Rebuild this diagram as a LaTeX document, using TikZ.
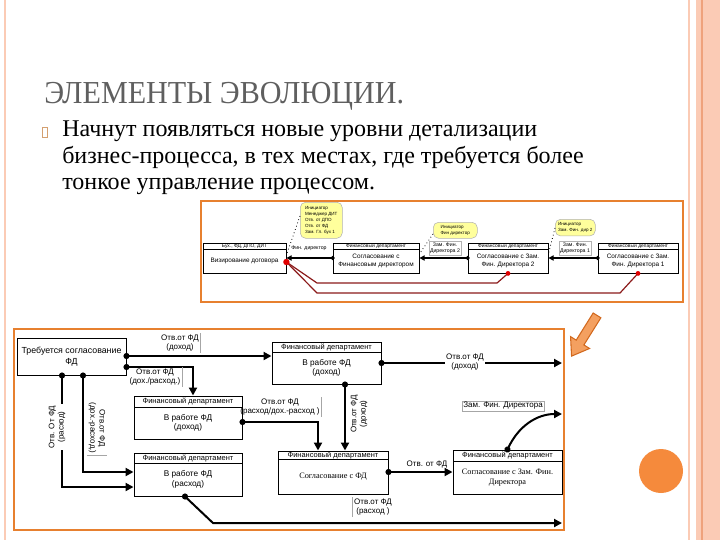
\documentclass[tikz,border=0pt]{standalone}
\usepackage{fontspec}
\setmainfont{Liberation Serif}
\newfontfamily\dgfont{Liberation Sans}
\usetikzlibrary{arrows.meta,calc,fit,shapes.arrows}

\definecolor{frameorange}{HTML}{E7802F}
\definecolor{borderpink}{HTML}{FBCBB5}
\definecolor{borderline}{HTML}{EFA27C}
\definecolor{calloutyellow}{HTML}{FFFF9C}
\definecolor{redline}{HTML}{8B1A1A}
\definecolor{reddot}{HTML}{E00000}
\definecolor{titlegray}{HTML}{5F5F5F}
\definecolor{bullettan}{HTML}{D4A070}
\definecolor{arrowfill}{HTML}{F4A060}
\definecolor{arrowedge}{HTML}{D2691E}
\definecolor{dotorange}{HTML}{F58A3C}

% box with a header strip: name, x1, y1, x2, y2, header y, header, body
\newcommand{\fdbox}[8]{%
  \node[fdbox, fit={(#2,#3) (#4,#5)}] (#1) {};
  \draw[fdbox line] (#2,#6) -- (#4,#6);
  \node[hdr] (#1-h) at ($(#2,#3)!0.5!(#4,#6)$) {#7};
  \node[bdy] (#1-b) at ($(#2,#6)!0.5!(#4,#5)$) {#8};
}

\tikzset{
  fdbox/.style={draw, line width=0.75pt, inner sep=0pt},
  fdbox line/.style={line width=0.75pt},
  hdr/.style={font=\dgfont\fontsize{5.6}{6.5}\selectfont, inner sep=0pt},
  bdy/.style={font=\dgfont\fontsize{6.2}{7.2}\selectfont, align=center, inner sep=0pt},
  lbl/.style={font=\dgfont\fontsize{6}{7}\selectfont, align=center, inner sep=1pt},
  flow/.style={line width=1.5pt, {Circle[length=4.5pt]}-{Triangle[length=6pt,width=6pt]}, shorten <=-2.25pt},
  tflow/.style={line width=0.8pt, {Circle[length=3pt]}-{Triangle[length=4pt,width=4pt]}, shorten <=-1.5pt},
  callout/.style={draw=gray!60, fill=calloutyellow, rounded corners=4pt, align=left,
    font=\dgfont\fontsize{3.4}{4.4}\selectfont, inner sep=1.5pt, anchor=north west},
  bar/.style={gray!70, line width=0.4pt},
  redpath/.style={redline, line width=0.9pt}
}

\begin{document}
\begin{tikzpicture}[x=0.75pt,y=-0.75pt]
\useasboundingbox (0,0) rectangle (720,540);

% slide border
\fill[borderpink] (696,0) rectangle (720,540);
\draw[borderline, line width=1.5pt] (702,0) -- (702,540);
\draw[borderpink, line width=1.5pt] (689,0) -- (689,540);
\draw[borderpink, line width=1.5pt] (5,0) -- (5,540);

% title and text
\node[anchor=base west, text=titlegray, font=\fontsize{24}{28}\selectfont, inner sep=0pt, xscale=0.94] (title) at (44,103) {ЭЛЕМЕНТЫ ЭВОЛЮЦИИ.};
\draw[bullettan, line width=0.5pt] (42,127) rectangle (47,137);
\node[anchor=north west, align=left, font=\fontsize{18}{19.8}\selectfont, inner sep=0pt] (intro) at (62,121)
  {Начнут появляться новые уровни детализации\\бизнес-процесса, в тех местах, где требуется более\\тонкое управление процессом.};

% upper diagram
\draw[frameorange, line width=1.8pt] (201,201) rectangle (683,302);
\begin{scope}[fdbox/.style={draw, line width=0.6pt, inner sep=0pt}, fdbox line/.style={line width=0.6pt},
  hdr/.style={font=\dgfont\fontsize{3.7}{4.5}\selectfont, inner sep=0pt},
  bdy/.style={font=\dgfont\fontsize{4.8}{5.8}\selectfont, align=center, inner sep=0pt},
  lbl/.style={font=\dgfont\fontsize{3.9}{4.8}\selectfont, align=center, inner sep=1pt}]
  \fdbox{visa}{203}{243}{286}{273}{249}{Бух., ФД, ДПО, ДИТ}{Визирование договора}
  \fdbox{agrfd}{333}{243}{419}{273}{249}{Финансовый департамент}{Согласование с\\Финансовым директором}
  \fdbox{agrz2}{468}{243}{548}{273}{249}{Финансовый департамент}{Согласование с Зам.\\Фин. Директора 2}
  \fdbox{agrz1}{598}{243}{678}{273}{249}{Финансовый департамент}{Согласование с Зам.\\Фин. Директора 1}

  \draw[tflow] (agrfd.west |- 0,258) -- (visa.east |- 0,258);
  \draw[tflow] (agrz2.west |- 0,258) -- (agrfd.east |- 0,258);
  \draw[tflow] (agrz1.west |- 0,258) -- (agrz2.east |- 0,258);
  \node[lbl] (l-fin) at (309,248) {Фин. директор};
  \node[lbl, draw=gray!60, line width=0.3pt] (l-z2) at (445,248) {Зам. Фин.\\Директора 2};
  \node[lbl, draw=gray!60, line width=0.3pt] (l-z1) at (575,248) {Зам. Фин.\\Директора 1};

  \node[callout, minimum width=31.5pt, minimum height=27pt] (ini1) at (300,202) {Инициатор\\Менеджер ДИТ\\Отв. от ДПО\\Отв. от ФД\\Зам. Гл. бух 1};
  \node[callout, minimum width=33pt, minimum height=12pt] (ini2) at (433,222) {Инициатор\\Фин директор};
  \node[callout, minimum width=30pt, minimum height=12.5pt] (ini3) at (555,219) {Инициатор\\Зам. Фин. дир 2};
  \draw[dotted, line width=0.6pt] (ini1.west |- 0,216) -- (visa.east |- 0,255);
  \draw[dotted, line width=0.6pt] (ini2.west |- 0,234) -- (agrfd.east |- 0,254);
  \draw[dotted, line width=0.6pt] (ini3.west |- 0,228) -- (agrz2.east |- 0,254);

  \draw[redpath] (agrz2.south) -- (497,283) -- (317,283) -- (visa.east |- 0,262);
  \draw[redpath] (agrz1.south) -- (620,293) -- (317,293) -- (visa.east |- 0,262);
  \fill[reddot] (visa.east |- 0,262) circle (2.4pt);
  \fill[reddot] (agrz2.south) circle (1.8pt);
  \fill[reddot] (agrz1.south) circle (1.8pt);
\end{scope}

% hint arrow and dot
\node[single arrow, draw=arrowedge, fill=arrowfill, line width=0.8pt, minimum height=36pt, inner sep=3pt,
  single arrow head extend=5pt, single arrow tip angle=70, rotate=238] (hint) at (586,333) {};
\fill[dotorange] (661,471) circle (16.5pt);

% lower diagram
\draw[frameorange, line width=1.9pt] (14,329) rectangle (564,530);
\node[fdbox, fit={(17,338) (126,375)}] (req) {};
\node[bdy, font=\dgfont\fontsize{6.6}{8}\selectfont] (req-t) at (req.center) {Требуется согласование\\ФД};
\fdbox{wrkinc}{272}{342}{381}{384}{352}{Финансовый департамент}{В работе ФД\\(доход)}
\fdbox{wrkmix}{134}{396}{242}{439}{407}{Финансовый департамент}{В работе ФД\\(доход)}
\fdbox{wrkexp}{134}{453}{242}{496}{463}{Финансовый департамент}{В работе ФД\\(расход)}
\fdbox{chkfd}{278}{451}{388}{494}{459}{Финансовый департамент}{\rmfamily Согласование с ФД}
\fdbox{chkzam}{453}{450}{562}{494}{461}{Финансовый департамент}{\rmfamily Согласование с Зам. Фин.\\\rmfamily Директора}
\coordinate (outinc) at (562,363);
\coordinate (outzam) at (562,414);
\coordinate (outexp) at (562,523);

\draw[flow] (req.east |- 0,356) -- (wrkinc.west |- 0,356);
\draw[flow] (req.east |- 0,367) -| (193,0 |- wrkmix.north);
\draw[flow] (req.south -| 83,0) |- (wrkexp.west |- 0,472);
\draw[flow] (req.south -| 62,0) |- (wrkexp.west |- 0,487);
\draw[flow] (wrkmix.east |- 0,422) -| (318,0 |- chkfd.north);
\draw[flow] (wrkinc.south -| 345,0) -- (345,0 |- chkfd.north);
\draw[flow] (wrkinc.east |- 0,363) -- (outinc);
\draw[flow] (chkfd.east |- 0,472) -- (chkzam.west |- 0,472);
\draw[flow] (chkzam.north) to[out=65,in=180] (outzam);
\draw[flow] (wrkexp.south -| 185,0) -- (213,523) -- (outexp);

\node[lbl] (l-a) at (180,343) {Отв.от ФД\\(доход)};
\draw[bar] (l-a.north east) -- (l-a.south east);
\node[lbl] (l-b) at (155,377) {Отв.от ФД\\(дох./расход.)};
\draw[bar] (l-b.north east) -- (l-b.south east);
\node[lbl, fill=white, rotate=90] (l-c) at (57,427) {Отв. От ФД\\(расход)};
\node[lbl, rotate=-90] (l-d) at (97,428) {Отв.от ФД\\(дох.-расход.)};
\draw[bar] (l-d.north east) -- (l-d.south east);
\node[lbl] (l-e) at (280,407) {Отв.от ФД\\(расход/дох.-расход )};
\draw[bar] (l-e.north east) -- (l-e.south east);
\node[lbl, rotate=90] (l-f) at (359,414) {Отв.от ФД\\(доход)};
\node[lbl, fill=white] (l-g) at (465,362) {Отв.от ФД\\(доход)};
\node[lbl, draw=gray!70, line width=0.4pt] (l-h) at (503,406) {Зам. Фин. Директора};
\node[lbl] (l-i) at (427,464) {Отв. от ФД};
\node[lbl] (l-j) at (373,507) {Отв.от ФД\\(расход )};
\draw[bar] (l-j.north west) -- (l-j.south west);
\end{tikzpicture}
\end{document}
